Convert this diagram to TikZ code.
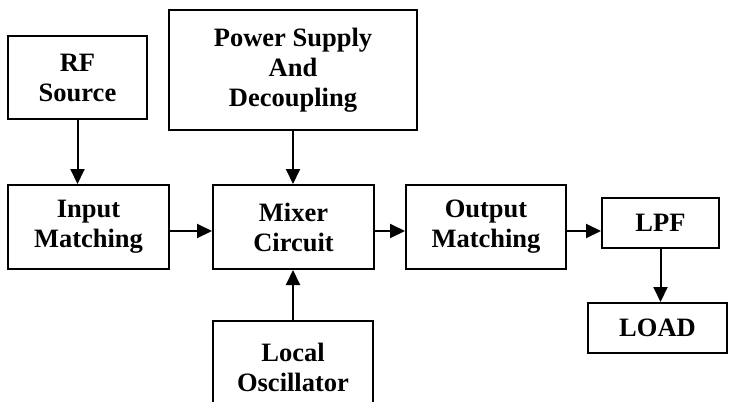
\documentclass[tikz,border=0pt]{standalone}
\usepackage{fontspec}
\setmainfont{Liberation Serif}
\usetikzlibrary{arrows.meta}
\begin{document}
\begin{tikzpicture}[x=1pt,y=-1pt,
  blk/.style={draw=black,line width=2pt,rectangle,inner sep=0pt,align=center,
    font=\bfseries\fontsize{26.5}{30}\selectfont},
  conn/.style={line width=2pt,-{Triangle[length=15pt,width=14pt]}}]
\clip (0,0) rectangle (729,402);
\fill[white] (0,0) rectangle (729,402);
\node[blk,minimum width=139pt,minimum height=83pt] (rf) at (77.5,77.5) {RF\\Source};
\node[blk,minimum width=248pt,minimum height=120pt] (ps) at (293,70) {Power Supply\\And\\Decoupling};
\node[blk,minimum width=161pt,minimum height=84pt] (inp) at (88.5,227) {Input\\Matching};
\node[blk,minimum width=161pt,minimum height=84pt] (mix) at (293.5,227) {Mixer\\Circuit};
\node[blk,minimum width=160pt,minimum height=92pt] (lo) at (293,367) {Local\\Oscillator};
\node[blk,minimum width=160pt,minimum height=84pt] (out) at (486,227) {Output\\Matching};
\node[blk,minimum width=117pt,minimum height=50pt] (lpf) at (660.5,223) {LPF};
\node[blk,minimum width=139pt,minimum height=50pt] (load) at (657.5,328) {LOAD};
\draw[conn] (rf.south) -- (rf.south |- inp.north);
\draw[conn] (ps.south) -- (ps.south |- mix.north);
\draw[conn] (lo.north) -- (lo.north |- mix.south);
\draw[conn] ([yshift=-4pt]inp.east) -- ([yshift=-4pt]mix.west);
\draw[conn] ([yshift=-4pt]mix.east) -- ([yshift=-4pt]out.west);
\draw[conn] ([yshift=-4pt]out.east) -- ([yshift=-4pt]out.east -| lpf.west);
\draw[conn] (lpf.south) -- (lpf.south |- load.north);
\end{tikzpicture}
\end{document}
